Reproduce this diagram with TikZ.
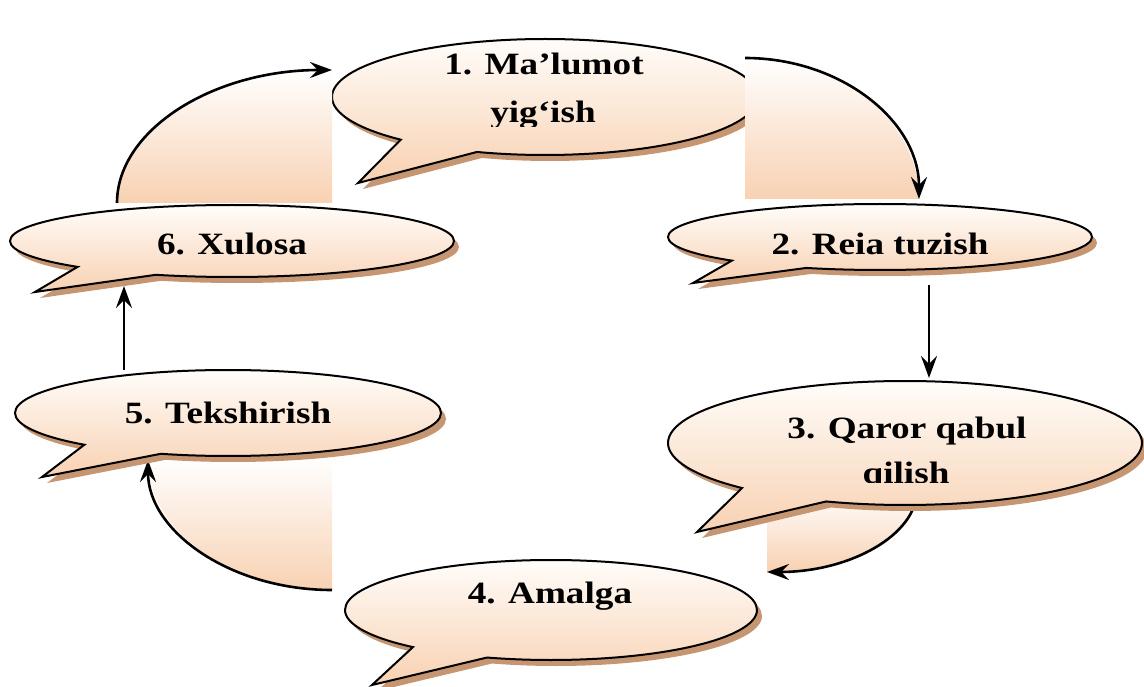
\documentclass[tikz,border=0pt]{standalone}
\usepackage{fontspec}
\setmainfont{Liberation Serif}
\usetikzlibrary{shapes.callouts,shadows,arrows.meta}

\definecolor{peachfill}{RGB}{248,209,178}
\definecolor{peachtop}{RGB}{255,253,250}
\definecolor{shadowbrown}{RGB}{198,150,114}

\tikzset{
  bubble/.style={ellipse callout, draw=black, line width=2pt, inner sep=0pt,
    top color=peachtop, bottom color=peachfill, callout pointer arc=24,
    drop shadow={shadow xshift=5pt, shadow yshift=-6pt, fill=shadowbrown, opacity=1}},
  bubbletext/.style={font=\bfseries\fontsize{31}{37}\selectfont, xscale=1.2,
    anchor=base, inner sep=0pt},
  flow/.style={line width=2.6pt, -{Stealth[length=22pt,width=16pt,inset=8pt]}},
  sector/.style={top color=white, bottom color=peachfill}
}

\begin{document}
\begin{tikzpicture}[x=1pt, y=-1pt]
  \useasboundingbox (0,0) rectangle (1144,687);

  % first bubble (the right-hand sector lies over it)
  \node[bubble, minimum width=426pt, minimum height=116pt,
        callout absolute pointer={(358,183)}] (b1) at (545,97) {};

  % curved connectors with their shaded sectors
  \coordinate (c61s) at (117,203);
  \coordinate (c61e) at (332,70);
  \shade[sector] (332,203) -- (c61s) .. controls (117,130) and (213,70) .. (c61e) -- cycle;
  \draw[flow] (c61s) .. controls (117,130) and (213,70) .. (c61e);

  \coordinate (c12s) at (745,58);
  \coordinate (c12e) at (919,199);
  \shade[sector] (745,199) -- (c12s) .. controls (841,58) and (919,121) .. (c12e) -- cycle;
  \draw[flow] (c12s) .. controls (841,58) and (919,121) .. (c12e);

  \coordinate (c34s) at (917,490);
  \coordinate (c34e) at (767,572);
  \shade[sector] (767,490) -- (c34s) .. controls (917,535) and (850,572) .. (c34e) -- cycle;
  \draw[flow] (c34s) .. controls (917,535) and (850,572) .. (c34e);

  \coordinate (c45s) at (332,590);
  \coordinate (c45e) at (148,460);
  \shade[sector] (332,458) -- (c45e) .. controls (148,531) and (230,590) .. (c45s) -- cycle;
  \draw[flow] (c45s) .. controls (230,590) and (148,531) .. (c45e);

  % straight connectors
  \coordinate (c23s) at (929,285);
  \coordinate (c23e) at (929,378);
  \draw[flow] (c23s) -- (c23e);
  \coordinate (c56s) at (124,370);
  \coordinate (c56e) at (124,286);
  \draw[flow] (c56s) -- (c56e);

  % remaining bubbles
  \node[bubble, minimum width=424pt, minimum height=66pt,
        callout absolute pointer={(693,283)}] (b2) at (880,237) {};
  \node[bubble, minimum width=474pt, minimum height=124pt,
        callout absolute pointer={(697,532)}] (b3) at (905,443) {};
  \node[bubble, minimum width=412pt, minimum height=100pt,
        callout absolute pointer={(372,685)}] (b4) at (551,610) {};
  \node[bubble, minimum width=426pt, minimum height=86pt,
        callout absolute pointer={(42,477)}] (b5) at (228,413) {};
  \node[bubble, minimum width=444pt, minimum height=72pt,
        callout absolute pointer={(35,292)}] (b6) at (232,241) {};

  % texts
  \node[bubbletext] (t1a) at (544,75) {1. Ma’lumot};
  \begin{scope}
    \clip (332,90) rectangle (760,127);
    \node[bubbletext] (t1b) at (543,123) {yig‘ish};
  \end{scope}
  \node[bubbletext] (t2) at (880,255) {2. Reia tuzish};
  \node[bubbletext] (t3a) at (907,438) {3. Qaror qabul};
  \begin{scope}
    \clip (660,445) rectangle (1144,482);
    \node[bubbletext] (t3b) at (906,483) {qilish};
  \end{scope}
  \node[bubbletext] (t4) at (550,603) {4. Amalga};
  \node[bubbletext] (t5) at (228,423) {5. Tekshirish};
  \node[bubbletext] (t6) at (232,255) {6. Xulosa};
\end{tikzpicture}
\end{document}
